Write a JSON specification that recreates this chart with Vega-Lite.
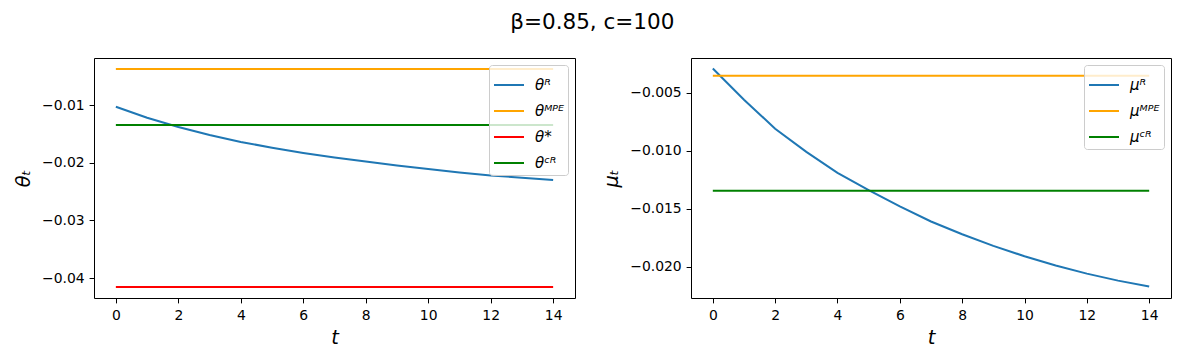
{
  "$schema": "https://vega.github.io/schema/vega-lite/v6.json",
  "background": "white",
  "padding": {"left": 13, "top": 12, "right": 11, "bottom": 5},
  "title": {"text": "β=0.85, c=100", "fontSize": 21.5, "font": "DejaVu Sans", "fontWeight": "normal", "anchor": "middle", "offset": 24, "color": "black"},
  "datasets": {
    "theta": [
      {"s": "θᴿ", "t": 0, "v": -0.0103},
      {"s": "θᴿ", "t": 1, "v": -0.0122},
      {"s": "θᴿ", "t": 2, "v": -0.0138},
      {"s": "θᴿ", "t": 3, "v": -0.0152},
      {"s": "θᴿ", "t": 4, "v": -0.0164},
      {"s": "θᴿ", "t": 5, "v": -0.0174},
      {"s": "θᴿ", "t": 6, "v": -0.0183},
      {"s": "θᴿ", "t": 7, "v": -0.0191},
      {"s": "θᴿ", "t": 8, "v": -0.0198},
      {"s": "θᴿ", "t": 9, "v": -0.0205},
      {"s": "θᴿ", "t": 10, "v": -0.0211},
      {"s": "θᴿ", "t": 11, "v": -0.0217},
      {"s": "θᴿ", "t": 12, "v": -0.0222},
      {"s": "θᴿ", "t": 13, "v": -0.0226},
      {"s": "θᴿ", "t": 14, "v": -0.0230},
      {"s": "θᴹᴾᴱ", "t": 0, "v": -0.00376},
      {"s": "θᴹᴾᴱ", "t": 14, "v": -0.00376},
      {"s": "θ*", "t": 0, "v": -0.04154},
      {"s": "θ*", "t": 14, "v": -0.04154},
      {"s": "θᶜᴿ", "t": 0, "v": -0.01347},
      {"s": "θᶜᴿ", "t": 14, "v": -0.01347}
    ],
    "mu": [
      {"s": "μᴿ", "t": 0, "v": -0.0029},
      {"s": "μᴿ", "t": 1, "v": -0.0056},
      {"s": "μᴿ", "t": 2, "v": -0.0081},
      {"s": "μᴿ", "t": 3, "v": -0.0101},
      {"s": "μᴿ", "t": 4, "v": -0.0119},
      {"s": "μᴿ", "t": 5, "v": -0.0134},
      {"s": "μᴿ", "t": 6, "v": -0.0148},
      {"s": "μᴿ", "t": 7, "v": -0.0161},
      {"s": "μᴿ", "t": 8, "v": -0.0172},
      {"s": "μᴿ", "t": 9, "v": -0.0182},
      {"s": "μᴿ", "t": 10, "v": -0.0191},
      {"s": "μᴿ", "t": 11, "v": -0.0199},
      {"s": "μᴿ", "t": 12, "v": -0.0206},
      {"s": "μᴿ", "t": 13, "v": -0.0212},
      {"s": "μᴿ", "t": 14, "v": -0.0217},
      {"s": "μᴹᴾᴱ", "t": 0, "v": -0.00353},
      {"s": "μᴹᴾᴱ", "t": 14, "v": -0.00353},
      {"s": "μᶜᴿ", "t": 0, "v": -0.01345},
      {"s": "μᶜᴿ", "t": 14, "v": -0.01345}
    ]
  },
  "spacing": 25,
  "hconcat": [
    {
      "width": 481,
      "height": 240,
      "data": {"name": "theta"},
      "mark": {"type": "line", "strokeWidth": 2},
      "encoding": {
        "x": {"field": "t", "type": "quantitative", "scale": {"domain": [-0.7, 14.7], "nice": false, "zero": false}, "axis": {"values": [0, 2, 4, 6, 8, 10, 12, 14], "title": "t"}},
        "y": {"field": "v", "type": "quantitative", "scale": {"domain": [-0.04345, -0.00185], "nice": false, "zero": false}, "axis": {"values": [-0.04, -0.03, -0.02, -0.01], "format": ".2f", "title": "θₜ"}},
        "color": {"field": "s", "type": "nominal", "scale": {"domain": ["θᴿ", "θᴹᴾᴱ", "θ*", "θᶜᴿ"], "range": ["#1f77b4", "#ffa500", "#ff0000", "#008000"]}, "legend": {"title": null}}
      }
    },
    {
      "width": 480,
      "height": 240,
      "data": {"name": "mu"},
      "mark": {"type": "line", "strokeWidth": 2},
      "encoding": {
        "x": {"field": "t", "type": "quantitative", "scale": {"domain": [-0.7, 14.7], "nice": false, "zero": false}, "axis": {"values": [0, 2, 4, 6, 8, 10, 12, 14], "title": "t"}},
        "y": {"field": "v", "type": "quantitative", "scale": {"domain": [-0.0227, -0.002], "nice": false, "zero": false}, "axis": {"values": [-0.02, -0.015, -0.01, -0.005], "format": ".3f", "title": "μₜ"}},
        "color": {"field": "s", "type": "nominal", "scale": {"domain": ["μᴿ", "μᴹᴾᴱ", "μᶜᴿ"], "range": ["#1f77b4", "#ffa500", "#008000"]}, "legend": {"title": null}}
      }
    }
  ],
  "resolve": {"scale": {"color": "independent", "x": "independent", "y": "independent"}, "legend": {"color": "independent"}},
  "config": {
    "font": "DejaVu Sans",
    "view": {"stroke": "black", "strokeWidth": 1},
    "axis": {"grid": false, "domain": false, "tickColor": "black", "tickSize": 4.9, "tickWidth": 1, "labelFontSize": 13.9, "labelColor": "black", "labelPadding": 4.9, "titleFontSize": 19.4, "titleFontWeight": "normal", "titleFontStyle": "italic", "titleColor": "black", "labelFont": "DejaVu Sans", "titleFont": "DejaVu Sans"},
    "axisY": {"titlePadding": 8},
    "axisX": {"titlePadding": 6, "labelPadding": 6},
    "legend": {"orient": "top-right", "offset": 7, "symbolType": "stroke", "symbolSize": 900, "symbolStrokeWidth": 2, "labelFontSize": 15, "labelFontStyle": "italic", "labelColor": "black", "labelFont": "DejaVu Sans", "padding": 4, "rowPadding": 2, "labelOffset": 10, "fillColor": "rgba(255,255,255,0.8)", "strokeColor": "#cccccc", "cornerRadius": 3}
  }
}
